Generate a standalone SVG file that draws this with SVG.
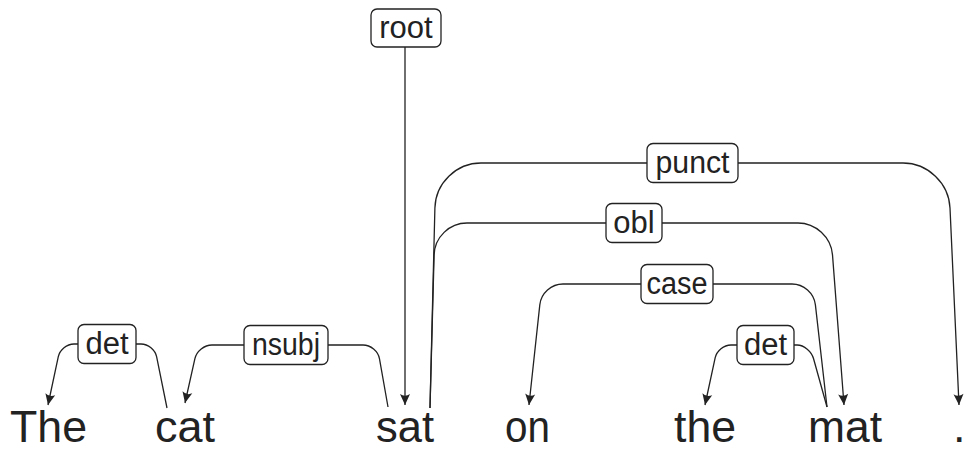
<svg xmlns="http://www.w3.org/2000/svg" width="965" height="452" viewBox="0 0 965 452">
<style>
.word{font-family:"Liberation Sans",Arial,sans-serif;font-size:45px;fill:#222}
.lbl{font-family:"Liberation Sans",Arial,sans-serif;font-size:31px;fill:#222;text-anchor:middle}
.box{fill:#fff;stroke:#222;stroke-width:1.3}
.edge{fill:none;stroke:#222;stroke-width:1.3;marker-end:url(#arr)}
</style>
<defs>
<marker id="arr" viewBox="-12 -6 13 12" markerWidth="13" markerHeight="12" refX="0" refY="0" markerUnits="userSpaceOnUse" orient="auto">
<path d="M0,0 L-11,-5 Q-7.5,0 -11,5 Z" fill="#222"/>
</marker>
</defs>
<g id="connectors">
<path class="edge" d="M405,47 L405,405"/>
<path class="edge" d="M167,408 L156.6,356.7 C155.2,349.7 148.2,344 141,344 L74,344 C66.8,344 59.8,349.7 58.3,356.7 L48,405"/>
<path class="edge" d="M388,407 L379.5,358.8 C378.1,351.2 370.7,345 363,345 L212,345 C204.3,345 196.6,351.1 194.9,358.7 L185,403"/>
<path class="edge" d="M430,408 L434.9,208 C435.5,183.2 456.2,163 481,163 L903,163 C927.8,163 948.9,183.2 950,208 L959,405"/>
<path class="edge" d="M430,408 L434.1,255 C434.6,237.3 449.3,223 467,223 L798,223 C815.7,223 831.1,237.3 832.5,254.9 L844,405"/>
<path class="edge" d="M827,407 L815.4,304.9 C814.1,293.3 803.6,284 792,284 L563,284 C551.4,284 541,293.3 539.8,304.9 L529,405"/>
<path class="edge" d="M827,407 L813.5,358.5 C811.6,351.6 804.2,345 797,345 L731,345 C723.8,345 716.75,350.7 715.2,357.7 L705,405"/>
</g>
<g id="w-The"><text class="word" x="10" y="442" textLength="77" lengthAdjust="spacingAndGlyphs">The</text></g>
<g id="w-cat"><text class="word" x="155" y="442" textLength="60" lengthAdjust="spacingAndGlyphs">cat</text></g>
<g id="w-sat"><text class="word" x="376" y="442" textLength="58" lengthAdjust="spacingAndGlyphs">sat</text></g>
<g id="w-on"><text class="word" x="505" y="442" textLength="45" lengthAdjust="spacingAndGlyphs">on</text></g>
<g id="w-the"><text class="word" x="674" y="442" textLength="62" lengthAdjust="spacingAndGlyphs">the</text></g>
<g id="w-mat"><text class="word" x="808" y="442" textLength="74" lengthAdjust="spacingAndGlyphs">mat</text></g>
<g id="w-dot"><text class="word" x="953" y="442">.</text></g>
<g id="l-root"><rect class="box" x="371" y="9" width="70" height="38" rx="6"/><text class="lbl" x="406" y="37.5">root</text></g>
<g id="l-det1"><rect class="box" x="78" y="324.5" width="58" height="39" rx="6"/><text class="lbl" x="107" y="353.5">det</text></g>
<g id="l-nsubj"><rect class="box" x="244" y="325.5" width="84" height="39" rx="6"/><text class="lbl" x="286" y="354.5" textLength="68" lengthAdjust="spacingAndGlyphs">nsubj</text></g>
<g id="l-punct"><rect class="box" x="647" y="143.5" width="91" height="39" rx="6"/><text class="lbl" x="692.5" y="172.5" textLength="74" lengthAdjust="spacingAndGlyphs">punct</text></g>
<g id="l-obl"><rect class="box" x="606" y="203.5" width="56" height="39" rx="6"/><text class="lbl" x="634" y="232.5">obl</text></g>
<g id="l-case"><rect class="box" x="641" y="264.5" width="72" height="39" rx="6"/><text class="lbl" x="677" y="293.5" textLength="61" lengthAdjust="spacingAndGlyphs">case</text></g>
<g id="l-det2"><rect class="box" x="737" y="325.5" width="57" height="39" rx="6"/><text class="lbl" x="765.5" y="354.5">det</text></g>
</svg>
